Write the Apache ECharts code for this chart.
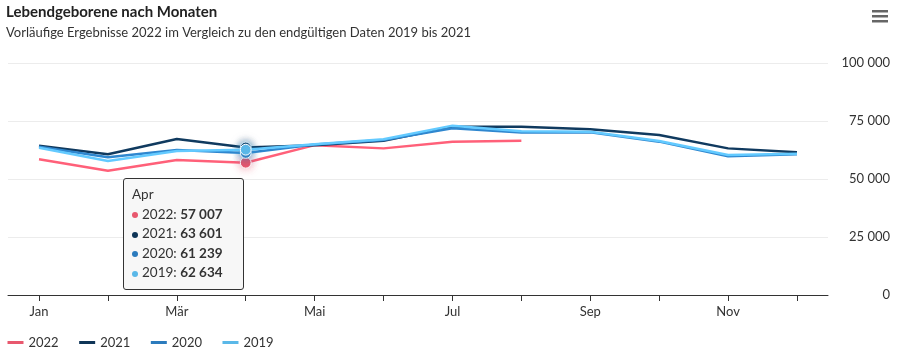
<!DOCTYPE html>
<html><head><meta charset="utf-8">
<script src="https://cdn.jsdelivr.net/npm/echarts@6/dist/echarts.min.js"></script>
<style>html,body{margin:0;padding:0;background:#fff}#c{width:900px;height:355px}</style>
</head><body><div id="c"></div>
<script>
const months = ['Jan','Feb','Mär','Apr','Mai','Jun','Jul','Aug','Sep','Okt','Nov','Dez'];
const labeledMonths = [0, 2, 4, 6, 8, 10];
const yTicks = [0, 25000, 50000, 75000, 100000];
const seriesNames = ['2022','2021','2020','2019'];
const v2022 = [58500, 53600, 58200, 57007, 64600, 63200, 66100, 66500];
const v2021 = [64350, 60650, 67250, 63601, 64600, 66500, 72550, 72550, 71400, 68950, 63200, 61500];
const v2020 = [63900, 59350, 62500, 61239, 64900, 66800, 71850, 70000, 70100, 66100, 59800, 60650];
const v2019 = [63500, 57750, 62070, 62634, 65000, 67100, 73000, 70600, 70400, 66400, 60350, 60900];
const colors = ['#e8586e', '#0f3557', '#2b7bbd', '#5ab8e8'];
const halos = ['rgba(232,88,110,0.6)', 'rgba(15,53,87,0.6)', 'rgba(43,123,189,0.6)', 'rgba(90,184,232,0.6)'];

const FONT = 'Lato, "Open Sans", sans-serif';
const fmt = v => String(Math.round(v)).replace(/\B(?=(\d{3})+(?!\d))/g, ' ');
const toPairs = arr => arr.map((v, i) => [i, v]);
const allData = [v2022, v2021, v2020, v2019];

const chart = echarts.init(document.getElementById('c'), null, {renderer: 'canvas'});
const option = {
  animation: false,
  textStyle: {fontFamily: FONT},
  title: {
    text: 'Lebendgeborene nach Monaten',
    subtext: 'Vorläufige Ergebnisse 2022 im Vergleich zu den endgültigen Daten 2019 bis 2021',
    left: 1, top: 0,
    itemGap: 6,
    textStyle: {fontFamily: FONT, fontSize: 15, fontWeight: 'bold', color: '#222'},
    subtextStyle: {fontFamily: FONT, fontSize: 13, color: '#333'}
  },
  graphic: [
    {type: 'rect', left: 872, top: 10, shape: {width: 16, height: 2.5}, style: {fill: '#666'}},
    {type: 'rect', left: 872, top: 15, shape: {width: 16, height: 2.5}, style: {fill: '#666'}},
    {type: 'rect', left: 872, top: 20, shape: {width: 16, height: 2.5}, style: {fill: '#666'}}
  ],
  legend: {
    left: 1, bottom: 1,
    itemWidth: 16, itemHeight: 8, itemGap: 19,
    lineStyle: {width: 3},
    itemStyle: {opacity: 0},
    textStyle: {fontFamily: FONT, fontSize: 13, color: '#333'},
    data: seriesNames
  },
  grid: {left: 8, right: 72, top: 63, bottom: 60},
  xAxis: {
    type: 'value', min: -0.45, max: 11.45,
    splitLine: {show: false},
    axisLine: {show: true, lineStyle: {color: '#333', width: 1}},
    axisTick: {show: true, customValues: months.map((m, i) => i), length: 6, lineStyle: {color: '#333'}},
    axisLabel: {customValues: labeledMonths, formatter: v => months[Math.round(v)], color: '#333', fontSize: 13, margin: 10, fontFamily: FONT},
    axisPointer: {show: true, type: 'line', lineStyle: {opacity: 0}, label: {show: false}}
  },
  yAxis: {
    type: 'value', position: 'right', min: 0, max: 100000, interval: 25000,
    axisLine: {show: false}, axisTick: {show: false},
    splitLine: {lineStyle: {color: '#ececec', width: 1}},
    axisLabel: {align: 'right', margin: 62, color: '#333', fontSize: 13, fontFamily: FONT, formatter: v => fmt(v)}
  },
  tooltip: {
    trigger: 'axis',
    alwaysShowContent: true,
    position: [123, 178],
    backgroundColor: 'rgba(247,247,247,0.97)',
    borderColor: '#333', borderWidth: 1, borderRadius: 3,
    padding: [6, 20, 6, 8],
    extraCssText: 'box-shadow:none;',
    axisPointer: {type: 'line', lineStyle: {opacity: 0}},
    formatter: params => {
      const ps = params.slice().sort((a, b) => seriesNames.indexOf(a.seriesName) - seriesNames.indexOf(b.seriesName));
      let s = '<div style="font-family:' + FONT.replace(/"/g, "'") + ';font-size:13.5px;color:#333;line-height:19.5px">' + months[Math.round(ps[0].value[0])];
      ps.forEach(p => {
        s += '<br><span style="display:inline-block;width:6px;height:6px;border-radius:3px;background:' + p.color + ';margin-right:4px;vertical-align:middle"></span>' + p.seriesName + ': <b>' + fmt(p.value[1]) + '</b>';
      });
      return s + '</div>';
    }
  },
  series: seriesNames.map((n, i) => ({
    name: n, type: 'line', data: toPairs(allData[i]),
    showSymbol: false, symbol: 'circle', symbolSize: 9,
    color: colors[i],
    lineStyle: {width: 2.5, color: colors[i]},
    itemStyle: {color: colors[i], borderColor: '#fff', borderWidth: 1},
    emphasis: {scale: 1.2, lineStyle: {width: 2.5}, itemStyle: {borderColor: '#fff', borderWidth: 1, shadowBlur: 10, shadowColor: halos[i]}},
    z: 2 + i
  }))
};
chart.setOption(option);
chart.dispatchAction({type: 'showTip', seriesIndex: 0, dataIndex: 3});
</script>
</body></html>
